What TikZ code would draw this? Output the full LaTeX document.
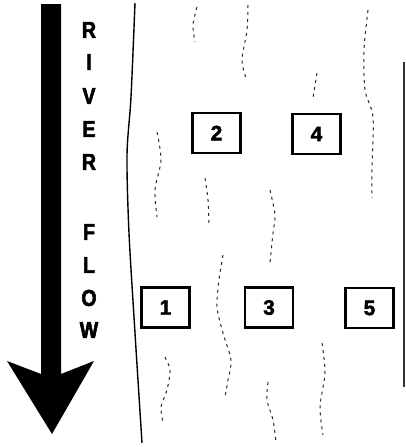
\documentclass[tikz,border=0pt]{standalone}
\usepackage{fontspec}
\setmainfont{Liberation Sans}
\newfontfamily\heavyfont[FakeBold=2.5,FakeStretch=0.85]{Liberation Sans Bold}
\newfontfamily\digitfont[FakeBold=2]{Liberation Sans Bold}
\begin{document}
\begin{tikzpicture}[x=1pt,y=-1pt,
  letter/.style={font=\fontsize{23}{23}\selectfont\heavyfont, inner sep=0pt},
  plot/.style={draw=black, line width=2.2pt, minimum width=48pt, minimum height=40pt,
    inner sep=0pt, font=\fontsize{21}{21}\selectfont\digitfont},
  current/.style={line width=1pt, dash pattern=on 3pt off 4pt, black!85},
  bank/.style={line width=1.4pt}]
\useasboundingbox (0,0) rectangle (406,447);

% flow arrow
\fill[black] (41,4) -- (41,374) -- (7,361) -- (52,434) -- (94,361) -- (61,374) -- (61,4) -- cycle;

% label beside the arrow
\foreach \ch/\yy [count=\i] in {R/30,I/62,V/96,E/129,R/162,F/232,L/265,O/298,W/330}
  \node[letter] (t\i) at (89,\yy) {\ch};

% left bank and right edge
\draw[bank] plot[smooth] coordinates {(135,3) (131,97) (127,155) (129,233) (135,333) (142,443)};
\draw[line width=1.2pt, black!80] (404,62) -- (404,387);

% sample plots
\node[plot] (s2) at (216.5,133) {2};
\node[plot] (s4) at (316.5,134) {4};
\node[plot] (s1) at (165.5,307.5) {1};
\node[plot] (s3) at (269,307.5) {3};
\node[plot] (s5) at (369.5,308) {5};

% current lines
\draw[current] plot[smooth] coordinates {(197,7) (193,25) (195,42)};
\draw[current] plot[smooth] coordinates {(248,5) (247,30) (242,60) (246,78)};
\draw[current] plot[smooth] coordinates {(317,73) (313,98)};
\draw[current] plot[smooth] coordinates {(368,10) (364,50) (365,90) (373,117) (372,167) (372,198)};
\draw[current] plot[smooth] coordinates {(157,132) (161,160) (155,190) (157,217)};
\draw[current] plot[smooth] coordinates {(205,178) (208,200) (209,224)};
\draw[current] plot[smooth] coordinates {(270,190) (275,215) (273,233) (270,263)};
\draw[current] plot[smooth] coordinates {(223,255) (219,280) (217,307) (223,333) (231,360) (228,380) (225,397)};
\draw[current] plot[smooth] coordinates {(165,357) (170,370) (167,390) (161,407) (163,422)};
\draw[current] plot[smooth] coordinates {(268,382) (267,400) (273,420) (276,442)};
\draw[current] plot[smooth] coordinates {(322,343) (325,373) (320,407) (323,435)};
\end{tikzpicture}
\end{document}
